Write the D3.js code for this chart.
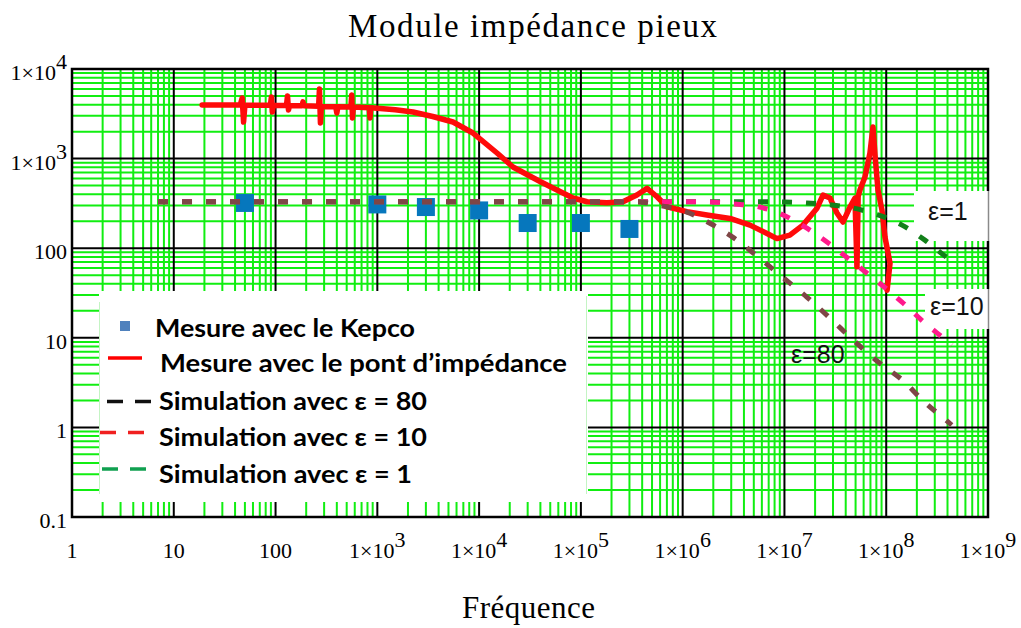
<!DOCTYPE html>
<html>
<head>
<meta charset="utf-8">
<script src="https://cdn.jsdelivr.net/npm/d3@7"></script>
<style>
  body { margin: 0; background: #fff; }
  svg { display: block; }
</style>
</head>
<body>
<svg id="chart" width="1021" height="628"></svg>
<script>
// ---- Data -------------------------------------------------------------
// Measurements with the Kepco amplifier (Hz, ohm)
const kepcoFreq = [50, 1e3, 3e3, 1e4, 3e4, 1e5, 3e5];
const kepcoZ    = [320, 308, 288, 264, 191, 191, 164];

// Impedance bridge sweep (Hz, ohm), in acquisition order
const bridgeFreq = [19, 45, 47, 48.5, 50, 89, 91, 93, 95, 128, 131, 134, 137,
  182, 186, 190, 265, 270, 276, 282, 390, 400, 410, 550, 560, 570, 580,
  835, 847, 860, 1000, 1500, 2240, 3500, 5540, 8710, 15000, 21500, 39700,
  58200, 83600, 115000, 180000, 259000, 355000, 447000, 560000, 702000,
  1.1e6, 1.73e6, 2.92e6, 4.59e6, 6.74e6, 8.45e6, 1.13e7, 1.52e7, 2.09e7,
  2.39e7, 2.8e7, 3.28e7, 3.76e7, 4.4e7, 4.93e7, 5.16e7, 5.3e7, 5.52e7,
  6.18e7, 6.92e7, 7.41e7, 7.76e7, 8.3e7, 9.08e7, 9.72e7, 1.09e8, 1.02e8];
const bridgeZ = [3960, 3960, 4750, 2560, 3950, 3940, 4870, 3310, 3930, 3920,
  5000, 3490, 3900, 3880, 4300, 3880, 3850, 5980, 2500, 3820, 3800, 3230,
  3800, 3760, 5130, 2840, 3760, 3700, 2840, 3700, 3650, 3500, 3310, 2950,
  2560, 1930, 1155, 806, 555, 447, 363, 330, 322, 330, 392, 465, 375, 290,
  256, 235, 215, 181, 146, 128, 140, 181, 280, 392, 363, 247, 196, 288, 363,
  62, 380, 447, 624, 1155, 2254, 1097, 447, 267, 133, 68, 34];

// Simulations for three permittivities
const sim80Freq = [7, 1e5, 3.6e5, 6.4e5, 1.1e6, 1.85e6, 3.1e6, 5.5e6, 9.7e6,
  1.66e7, 2.8e7, 4.7e7, 8.3e7, 1.43e8, 2.4e8, 4.05e8, 4.4e8];
const sim80Z = [330, 330, 328, 295, 253, 190, 133, 80, 47, 28.5, 16.6, 9.5,
  5.4, 3.4, 1.9, 1.15, 1.06];

const sim10Freq = [7, 1e6, 1.75e6, 3.2e6, 5.7e6, 9.7e6, 1.6e7, 2.7e7, 4.7e7,
  8.3e7, 1.43e8, 2.4e8, 4.05e8, 4.4e8];
const sim10Z = [330, 330, 328, 312, 288, 235, 172, 114, 70, 42, 25, 14.6, 9.0, 8.3];

const sim1Freq = [7, 5e6, 1e7, 1.66e7, 2.8e7, 4.7e7, 8.3e7, 1.43e8, 2.4e8, 4.05e8, 4.4e8];
const sim1Z = [330, 330, 328, 320, 305, 281, 235, 181, 123, 77, 72];

// Axis ticks
const xTicks = [1, 10, 100, 1e3, 1e4, 1e5, 1e6, 1e7, 1e8, 1e9];
const yTicks = [0.1, 1, 10, 100, 1e3, 1e4];

const legendLabels = [
  "Mesure avec le Kepco",
  "Mesure avec le pont d\u2019imp\u00e9dance",
  "Simulation avec \u03b5 = 80",
  "Simulation avec \u03b5 = 10",
  "Simulation avec \u03b5 = 1"
];
const curveLabels = ["\u03b5=1", "\u03b5=10", "\u03b5=80"];

// ---- Layout -----------------------------------------------------------
const svg = d3.select("#chart");
const plotL = 72, plotR = 988, plotT = 69, plotB = 517;
const x = d3.scaleLog().domain([1, 1e9]).range([plotL, plotR]);
const y = d3.scaleLog().domain([0.1, 1e4]).range([plotB, plotT]);

const serif = "'Liberation Serif', 'Times New Roman', serif";
const GREEN = "#11ee11";

// Grid: minor (2..9 per decade) in green, decades in black
const minorX = [], minorY = [];
for (let e = 0; e < 9; e++) for (let k = 2; k <= 9; k++) minorX.push(k * Math.pow(10, e));
for (let e = -1; e < 4; e++) for (let k = 2; k <= 9; k++) minorY.push(k * Math.pow(10, e));

const grid = svg.append("g");
grid.append("g").selectAll("line").data(minorX).join("line")
  .attr("x1", d => x(d)).attr("x2", d => x(d))
  .attr("y1", plotT).attr("y2", plotB)
  .attr("stroke", GREEN).attr("stroke-width", 2);
grid.append("g").selectAll("line").data(minorY).join("line")
  .attr("x1", plotL).attr("x2", plotR)
  .attr("y1", d => y(d)).attr("y2", d => y(d))
  .attr("stroke", GREEN).attr("stroke-width", 2);
grid.append("g").selectAll("line").data(xTicks.slice(1, -1)).join("line")
  .attr("x1", d => x(d)).attr("x2", d => x(d))
  .attr("y1", plotT).attr("y2", plotB)
  .attr("stroke", "#000").attr("stroke-width", 2);
grid.append("g").selectAll("line").data(yTicks.slice(1, -1)).join("line")
  .attr("x1", plotL).attr("x2", plotR)
  .attr("y1", d => y(d)).attr("y2", d => y(d))
  .attr("stroke", "#000").attr("stroke-width", 2);

// Frame
svg.append("rect")
  .attr("x", plotL).attr("y", plotT)
  .attr("width", plotR - plotL).attr("height", plotB - plotT)
  .attr("fill", "none").attr("stroke", "#000").attr("stroke-width", 2.5);

// White boxes behind the curve annotations at the right edge
[[914, 191, 76, 50], [925, 289, 65, 40]].forEach(([bx, by, bw, bh]) => {
  svg.append("rect").attr("x", bx).attr("y", by).attr("width", bw).attr("height", bh)
    .attr("fill", "#fff");
  svg.append("line").attr("x1", 988.5).attr("x2", 988.5).attr("y1", by).attr("y2", by + bh)
    .attr("stroke", "#8a8a8a").attr("stroke-width", 1.5);
});

// ---- Series -----------------------------------------------------------
const line = d3.line().x(d => x(d[0])).y(d => y(d[1]));
const zip = (a, b) => a.map((v, i) => [v, b[i]]);

// Bridge measurement
svg.append("path")
  .datum(zip(bridgeFreq, bridgeZ))
  .attr("d", line)
  .attr("fill", "none").attr("stroke", "#ff0a0a").attr("stroke-width", 5.5)
  .attr("stroke-linejoin", "round").attr("stroke-linecap", "round");

// Kepco points
const sq = 18;
svg.append("g").selectAll("rect").data(zip(kepcoFreq, kepcoZ)).join("rect")
  .attr("x", d => x(d[0]) - sq / 2).attr("y", d => y(d[1]) - sq / 2)
  .attr("width", sq).attr("height", sq)
  .attr("fill", "#0677bd");

// Simulations (drawn so that the eps=80 curve sits on top)
const sims = [
  { f: sim1Freq, z: sim1Z, color: "#12801a" },
  { f: sim10Freq, z: sim10Z, color: "#ff1a8c" },
  { f: sim80Freq, z: sim80Z, color: "#7e4646" }
];
const smooth = d3.line().x(d => x(d[0])).y(d => y(d[1])).curve(d3.curveMonotoneX);
sims.forEach(s => {
  svg.append("path")
    .datum(zip(s.f, s.z))
    .attr("d", smooth)
    .attr("fill", "none").attr("stroke", s.color).attr("stroke-width", 5)
    .attr("stroke-dasharray", "10,14");
});

// ---- Legend -----------------------------------------------------------
const lg = svg.append("g");
lg.append("rect").attr("x", 99).attr("y", 291).attr("width", 489).attr("height", 211)
  .attr("fill", "#fff");
lg.append("line").attr("x1", 99.5).attr("x2", 99.5).attr("y1", 302).attr("y2", 494)
  .attr("stroke", "#c4f4c4").attr("stroke-width", 1);
lg.append("line").attr("x1", 586.5).attr("x2", 586.5).attr("y1", 296).attr("y2", 494)
  .attr("stroke", "#c4f4c4").attr("stroke-width", 1);

lg.append("rect").attr("x", 120).attr("y", 321).attr("width", 10).attr("height", 10)
  .attr("fill", "#4f81bd");
lg.append("line").attr("x1", 108).attr("x2", 142).attr("y1", 358).attr("y2", 358)
  .attr("stroke", "#ff0000").attr("stroke-width", 3.5);
const legendDash = [
  { yy: 401.5, x0: 107, color: "#111" },
  { yy: 432.5, x0: 100, color: "#f02020" },
  { yy: 469, x0: 102, color: "#10a050" }
];
legendDash.forEach(d => {
  lg.append("line").attr("x1", d.x0).attr("x2", d.x0 + 45).attr("y1", d.yy).attr("y2", d.yy)
    .attr("stroke", d.color).attr("stroke-width", 3.5)
    .attr("stroke-dasharray", "16,12");
});

const legendText = [
  { x: 155, y: 337, w: 260 },
  { x: 160, y: 372, w: 407 },
  { x: 159, y: 410, w: 268 },
  { x: 159, y: 446, w: 268 },
  { x: 159, y: 483, w: 253 }
];
legendText.forEach((t, i) => {
  lg.append("text").attr("x", t.x).attr("y", t.y)
    .attr("font-family", "Lato, 'Open Sans', sans-serif")
    .attr("font-weight", 700).attr("font-size", 24.5)
    .attr("textLength", t.w).attr("lengthAdjust", "spacingAndGlyphs")
    .attr("fill", "#000")
    .text(legendLabels[i]);
});

// Curve annotations
const annot = [
  { x: 928, y: 220 },
  { x: 930, y: 315 },
  { x: 791, y: 363 }
];
annot.forEach((a, i) => {
  svg.append("text").attr("x", a.x).attr("y", a.y)
    .attr("font-family", "'Liberation Sans', Arial, sans-serif")
    .attr("font-size", 25).attr("fill", "#111")
    .text(curveLabels[i]);
});

// ---- Axes labels --------------------------------------------------------
function tickLabel(sel, v) {
  const e = Math.round(Math.log10(v));
  if (v < 1000) {
    sel.text(v < 1 ? "0.1" : String(v));
  } else {
    sel.append("tspan").text("1\u00d710");
    sel.append("tspan").attr("dy", -11).text(String(e));
  }
}
svg.append("g").selectAll("text").data(xTicks).join("text")
  .attr("x", d => x(d)).attr("y", 558)
  .attr("text-anchor", "middle")
  .attr("font-family", serif).attr("font-size", 22).attr("fill", "#000")
  .each(function (d) { tickLabel(d3.select(this), d); });

svg.append("g").selectAll("text").data(yTicks).join("text")
  .attr("x", 67).attr("y", d => y(d) + 11)
  .attr("text-anchor", "end")
  .attr("font-family", serif).attr("font-size", 22).attr("fill", "#000")
  .each(function (d) { tickLabel(d3.select(this), d); });

// Title and axis title
svg.append("text").attr("x", 348).attr("y", 37)
  .attr("font-family", serif).attr("font-size", 33)
  .attr("textLength", 369).attr("lengthAdjust", "spacing")
  .text("Module imp\u00e9dance pieux");

svg.append("text").attr("x", 462).attr("y", 618)
  .attr("font-family", serif).attr("font-size", 31)
  .attr("textLength", 133).attr("lengthAdjust", "spacing")
  .text("Fr\u00e9quence");
</script>
</body>
</html>
